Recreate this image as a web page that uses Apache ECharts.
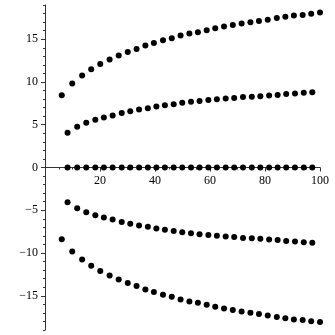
<!DOCTYPE html>
<html>
<head>
<meta charset="utf-8">
<script src="https://cdn.jsdelivr.net/npm/echarts@6/dist/echarts.min.js"></script>
<style>
    html, body { margin: 0; padding: 0; background: #fff; }
    #main { width: 335px; height: 335px; }
</style>
</head>
<body>
<div id="main"></div>
<script>
// outer pair of point rows
var xOuter = [6.1, 9.9, 13.5, 16.8, 20.1, 23.5, 26.8, 30.1, 33.3, 36.5, 39.6, 42.9, 46.1, 49.3, 52.5,
    55.6, 58.8, 61.9, 65.1, 68.3, 71.5, 74.7, 77.8, 81.0, 84.3, 87.4, 90.5, 93.7, 96.8, 100];
var yOuterTop = [8.46, 9.82, 10.76, 11.49, 12.11, 12.63, 13.09, 13.51, 13.86, 14.26, 14.56, 14.88, 15.11, 15.43, 15.66,
    15.81, 16.04, 16.28, 16.48, 16.66, 16.83, 16.98, 17.13, 17.29, 17.48, 17.64, 17.76, 17.83, 17.99, 18.11];
var yOuterBottom = [-8.4, -9.82, -10.76, -11.49, -12.11, -12.63, -13.09, -13.51, -13.86, -14.26, -14.56, -14.88, -15.11, -15.43, -15.66,
    -15.81, -16.04, -16.28, -16.48, -16.66, -16.83, -16.98, -17.13, -17.29, -17.48, -17.64, -17.76, -17.83, -17.99, -18.05];

// inner pair and the zero row
var xInner = [8.2, 11.7, 15.0, 18.3, 21.4, 24.6, 27.9, 31.0, 34.2, 37.4, 40.5, 43.6, 46.8, 49.9, 53.1,
    56.2, 59.4, 62.5, 65.7, 68.8, 72.0, 75.2, 78.3, 81.5, 84.6, 87.7, 90.9, 94.1, 97.2];
var yInnerTop = [4.06, 4.76, 5.23, 5.58, 5.86, 6.09, 6.36, 6.59, 6.79, 6.94, 7.14, 7.29, 7.41, 7.56, 7.68,
    7.79, 7.88, 7.99, 8.07, 8.14, 8.23, 8.26, 8.34, 8.42, 8.49, 8.58, 8.66, 8.73, 8.81];
var yInnerBottom = [-4.06, -4.76, -5.23, -5.58, -5.86, -6.09, -6.36, -6.59, -6.79, -6.94, -7.14, -7.29, -7.41, -7.56, -7.68,
    -7.79, -7.88, -7.99, -8.07, -8.14, -8.23, -8.26, -8.34, -8.42, -8.49, -8.58, -8.66, -8.73, -8.81];
var yZero = [0, 0, 0, 0, 0, 0, 0, 0, 0, 0, 0, 0, 0, 0, 0, 0, 0, 0, 0, 0, 0, 0, 0, 0, 0, 0, 0, 0, 0];

var xTicks = [20, 40, 60, 80, 100];
var yTicks = [-15, -10, -5, 0, 5, 10, 15];

function pairs(xs, ys) {
    return xs.map(function(x, i) { return [x, ys[i]]; });
}

var fontFamily = 'Liberation Serif';
var lineColor = '#333';

// grid is symmetric about y = 0, so the x axis sits half a grid height up
var gridTop = 5, gridBottom = 5, chartSize = 335;
var zeroShift = -(chartSize - gridTop - gridBottom) / 2;

function dots(xs, ys) {
    return {
        type: 'scatter',
        symbol: 'circle',
        symbolSize: 6,
        itemStyle: { color: '#000', opacity: 1 },
        data: pairs(xs, ys)
    };
}

var option = {
    animation: false,
    grid: { left: 45, right: 15, top: gridTop, bottom: gridBottom, containLabel: false, outerBoundsMode: 'none' },
    xAxis: {
        type: 'value',
        min: 0,
        max: 100,
        interval: 20,
        position: 'bottom',
        offset: zeroShift,
        splitLine: { show: false },
        axisLine: { onZero: false, lineStyle: { color: lineColor, width: 1 } },
        axisTick: { length: 4, lineStyle: { color: lineColor } },
        minorTick: { show: true, splitNumber: 4, length: 2, lineStyle: { color: lineColor } },
        axisLabel: {
            show: true,
            hideOverlap: false,
            margin: 7,
            fontFamily: fontFamily, fontSize: 12, color: '#000',
            formatter: function(v) { return xTicks.indexOf(v) >= 0 ? String(v) : ''; }
        }
    },
    yAxis: [{
        type: 'value',
        min: -19,
        max: 19,
        interval: 1,
        splitLine: { show: false },
        axisLine: { show: true, onZero: true, lineStyle: { color: lineColor, width: 1 } },
        axisTick: { length: 2, lineStyle: { color: lineColor } },
        axisLabel: {
            margin: 7,
            fontFamily: fontFamily, fontSize: 12, color: '#000',
            formatter: function(v) {
                return yTicks.indexOf(v) >= 0 ? String(v).replace('-', '\u2212') : '';
            }
        }
    }, {
        type: 'value',
        min: -19,
        max: 19,
        position: 'left',
        splitLine: { show: false },
        axisLine: { show: false, onZero: false },
        axisTick: { show: true, length: 4, customValues: yTicks, lineStyle: { color: lineColor } },
        axisLabel: { show: false }
    }],
    series: [
        dots(xOuter, yOuterTop),
        dots(xInner, yInnerTop),
        dots(xInner, yZero),
        dots(xInner, yInnerBottom),
        dots(xOuter, yOuterBottom)
    ]
};

var chart = echarts.init(document.getElementById('main'));
chart.setOption(option);
</script>
</body>
</html>
